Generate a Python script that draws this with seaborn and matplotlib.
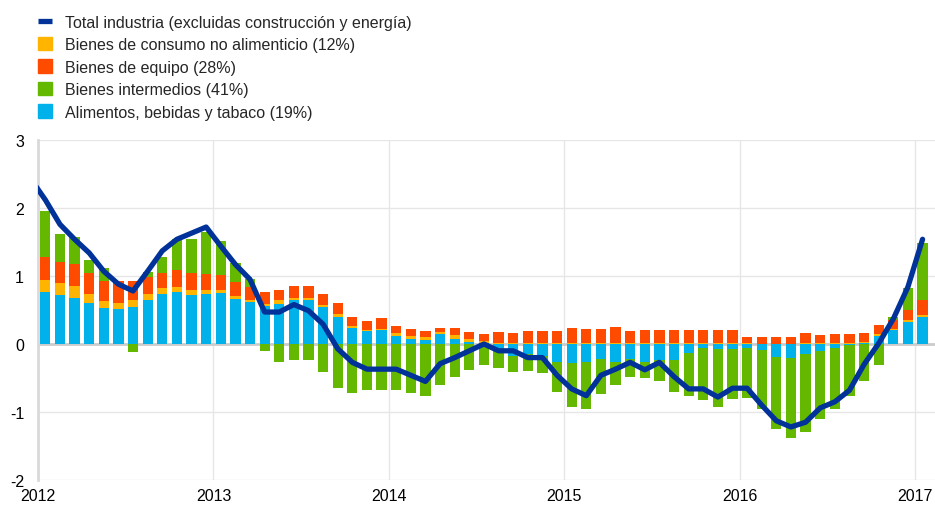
import numpy as np
import matplotlib
matplotlib.use("Agg")
import matplotlib.pyplot as plt
import seaborn as sns
from matplotlib.lines import Line2D
from matplotlib.patches import Patch

# monthly contributions, Jan 2012 - Jan 2017
alimentos = [0.76, 0.72, 0.68, 0.60, 0.53, 0.51, 0.55, 0.65, 0.74, 0.76, 0.72, 0.74,
             0.75, 0.66, 0.62, 0.56, 0.59, 0.64, 0.64, 0.55, 0.40, 0.23, 0.19, 0.20,
             0.12, 0.08, 0.06, 0.14, 0.08, 0.03, 0.01, -0.06, -0.17, -0.15, -0.17, -0.27,
             -0.28, -0.27, -0.22, -0.26, -0.22, -0.27, -0.24, -0.24, -0.13, -0.06, -0.07, -0.07,
             -0.06, -0.09, -0.19, -0.20, -0.15, -0.10, -0.06, -0.02, 0.02, 0.12, 0.20, 0.33,
             0.40]
consumo = [0.18, 0.17, 0.17, 0.13, 0.10, 0.10, 0.09, 0.09, 0.09, 0.08, 0.07, 0.06,
           0.05, 0.05, 0.02, 0.03, 0.05, 0.03, 0.04, 0.03, 0.04, 0.03, 0.01, 0.02,
           0.04, 0.04, 0.04, 0.04, 0.05, 0.04, 0.03, 0.01, 0.01, 0.01, 0.01, 0.01,
           0.01, 0.02, 0.01, 0.01, 0.01, 0.01, 0.01, 0.01, 0.01, 0.01, 0.01, 0.01,
           0.01, 0.00, 0.00, 0.00, 0.01, 0.01, 0.01, 0.01, 0.01, 0.03, 0.02, 0.02,
           0.03]
equipo = [0.34, 0.31, 0.33, 0.32, 0.30, 0.31, 0.28, 0.25, 0.22, 0.25, 0.25, 0.23,
          0.22, 0.20, 0.20, 0.18, 0.15, 0.18, 0.17, 0.15, 0.16, 0.14, 0.14, 0.16,
          0.10, 0.10, 0.09, 0.05, 0.11, 0.11, 0.11, 0.16, 0.15, 0.18, 0.18, 0.18,
          0.22, 0.20, 0.21, 0.24, 0.18, 0.19, 0.19, 0.19, 0.19, 0.20, 0.19, 0.19,
          0.10, 0.10, 0.10, 0.10, 0.15, 0.12, 0.13, 0.13, 0.13, 0.13, 0.13, 0.15,
          0.22]
intermedios = [0.68, 0.42, 0.39, 0.19, 0.19, 0.00, -0.12, 0.07, 0.23, 0.46, 0.50, 0.62,
               0.50, 0.28, 0.11, -0.11, -0.27, -0.23, -0.23, -0.41, -0.65, -0.72, -0.68, -0.68,
               -0.68, -0.72, -0.76, -0.61, -0.49, -0.38, -0.31, -0.30, -0.24, -0.25, -0.25, -0.43,
               -0.65, -0.68, -0.51, -0.34, -0.27, -0.23, -0.31, -0.47, -0.63, -0.77, -0.85, -0.74,
               -0.74, -0.87, -1.06, -1.18, -1.14, -1.01, -0.89, -0.74, -0.55, -0.31, 0.04, 0.32,
               0.84]
# total line, Dec 2011 - Jan 2017
total = [2.43,
         2.12, 1.76, 1.54, 1.34, 1.07, 0.88, 0.78, 1.07, 1.37, 1.54, 1.63, 1.72,
         1.44, 1.17, 0.95, 0.47, 0.47, 0.58, 0.49, 0.29, -0.07, -0.27, -0.37, -0.37,
         -0.37, -0.46, -0.55, -0.29, -0.20, -0.10, 0.00, -0.10, -0.10, -0.20, -0.20, -0.46,
         -0.66, -0.76, -0.46, -0.37, -0.27, -0.38, -0.27, -0.48, -0.66, -0.66, -0.78, -0.65,
         -0.65, -0.90, -1.13, -1.22, -1.15, -0.94, -0.85, -0.68, -0.30, 0.01, 0.37, 0.84,
         1.54]
years = ["2012", "2013", "2014", "2015", "2016", "2017"]

labels = ["Total industria (excluidas construcción y energía)",
          "Bienes de consumo no alimenticio (12%)",
          "Bienes de equipo (28%)",
          "Bienes intermedios (41%)",
          "Alimentos, bebidas y tabaco (19%)"]

c_line = "#003299"
c_food = "#00B1EA"
c_cons = "#FFB400"
c_equip = "#FF4B00"
c_inter = "#65B800"

sns.set_style("white")
plt.rcParams["font.family"] = ["Liberation Sans", "DejaVu Sans"]
plt.rcParams["axes.unicode_minus"] = False

fig = plt.figure(figsize=(9.35, 5.06), dpi=100)
ax = fig.add_axes([38 / 935, 1 - 481 / 506, 1 - 38 / 935, (481 - 141) / 506])

x = np.arange(len(alimentos)) + 0.5
pos = np.zeros(len(x))
neg = np.zeros(len(x))
for vals, col in [(alimentos, c_food), (consumo, c_cons), (equipo, c_equip), (intermedios, c_inter)]:
    v = np.array(vals)
    bottom = np.where(v >= 0, pos, neg)
    ax.bar(x, v, width=0.7, bottom=bottom, color=col, linewidth=0, zorder=3)
    pos = pos + np.where(v >= 0, v, 0)
    neg = neg + np.where(v < 0, v, 0)

line_x = np.arange(len(total)) - 0.5
sns.lineplot(x=line_x, y=total, color=c_line, linewidth=3.8, ax=ax, zorder=5,
             solid_capstyle="round", solid_joinstyle="round")

ax.set_xlim(0, 61.35)
ax.set_ylim(-2, 3)
ax.set_yticks(range(-2, 4))
ax.set_xticks(np.arange(len(years)) * 12)
ax.set_xticklabels(years)
ax.grid(True, color="#e6e6e6", linewidth=1, zorder=0)
ax.axhline(0, color="#cccccc", linewidth=2, zorder=2)
for s in ["top", "right", "bottom"]:
    ax.spines[s].set_visible(False)
ax.spines["left"].set_color("#d9d9d9")
ax.spines["left"].set_linewidth(2)
ax.tick_params(axis="both", length=0, labelsize=11.5, colors="black")
ax.tick_params(axis="y", pad=10)
ax.tick_params(axis="x", pad=6)
for lab in ax.get_xticklabels():
    lab.set_clip_on(False)

handles = [Line2D([0], [0], color=c_line, linewidth=3.8, solid_capstyle="butt"),
           Patch(color=c_cons), Patch(color=c_equip), Patch(color=c_inter), Patch(color=c_food)]
fig.legend(handles, labels, loc="upper left", bbox_to_anchor=(38 / 935, 1 - 15.5 / 506),
           frameon=False, fontsize=11.5, handlelength=0.9, handleheight=0.9,
           handletextpad=0.8, labelspacing=0.46, borderaxespad=0, borderpad=0)

fig.savefig("out.png", dpi=100)
